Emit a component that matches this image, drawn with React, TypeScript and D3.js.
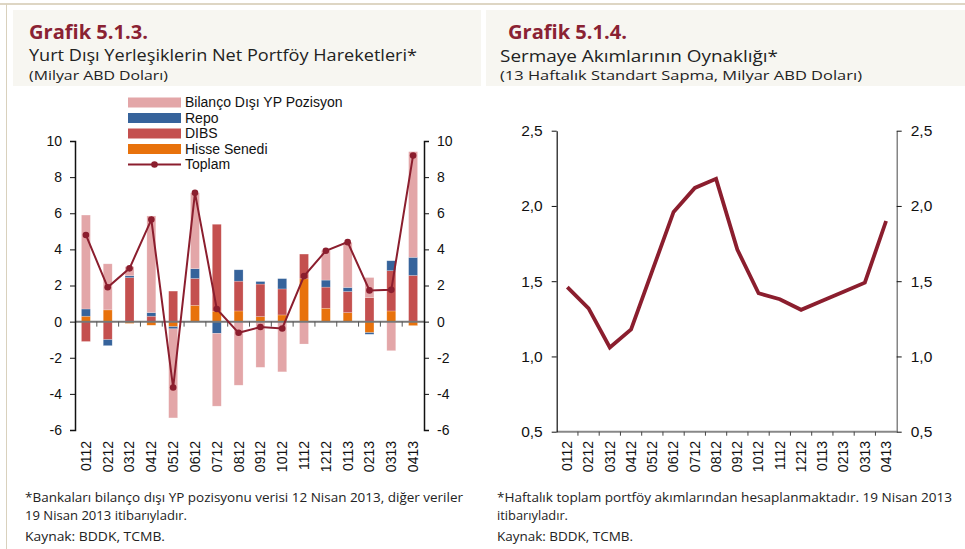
import React, { useEffect, useRef } from "react";
import * as d3 from "d3";

const months = ["0112", "0212", "0312", "0412", "0512", "0612", "0712", "0812", "0912", "1012", "1112", "1212", "0113", "0213", "0313", "0413"];

// Grafik 5.1.3 series (milyar ABD doları)
const hisse = [0.3, 0.65, -0.1, -0.2, -0.28, 0.9, 0.58, 0.59, 0.28, 0.37, 2.37, 0.74, 0.5, -0.61, 0.59, -0.22];
const dibs = [-1.1, -1.0, 2.44, 0.3, 1.69, 1.49, 4.81, 1.65, 1.8, 1.44, 1.37, 1.17, 1.17, 1.33, 2.23, 2.56];
const repo = [0.4, -0.33, 0.1, 0.2, -0.12, 0.54, -0.65, 0.63, 0.14, 0.57, 0, 0.39, 0.22, -0.09, 0.55, 1.0];
const bilanco = [5.2, 2.55, 0.5, 5.35, -4.93, 4.2, -4.03, -3.52, -2.53, -2.78, -1.24, 1.64, 2.5, 1.11, -1.61, 5.85];
const toplam = [4.8, 1.9, 2.95, 5.65, -3.65, 7.13, 0.7, -0.62, -0.3, -0.38, 2.52, 3.92, 4.4, 1.73, 1.76, 9.2];

// Grafik 5.1.4 series
const oynaklik = [1.46, 1.32, 1.06, 1.18, 1.57, 1.96, 2.12, 2.18, 1.71, 1.42, 1.38, 1.31, 1.37, 1.43, 1.49, 1.9];

const leftTicks = [-6, -4, -2, 0, 2, 4, 6, 8, 10];
const rightTicks = [0.5, 1.0, 1.5, 2.0, 2.5];

const seriesKeys = ["hisse", "dibs", "repo", "bilanco"];
const seriesColors: Record<string, string> = {
  hisse: "#e8720c",
  dibs: "#c4504f",
  repo: "#36639b",
  bilanco: "#e3a6a8",
};
const lineColor = "#8b1e2e";
const titleColor = "#8a2233";

const legendItems = [
  { key: "bilanco", label: "Bilanço Dışı YP Pozisyon" },
  { key: "repo", label: "Repo" },
  { key: "dibs", label: "DIBS" },
  { key: "hisse", label: "Hisse Senedi" },
  { key: "toplam", label: "Toplam" },
];

const axisFont = "'Liberation Sans', Arial, sans-serif";
const textFont = "'Open Sans', 'DejaVu Sans', sans-serif";

export default function App() {
  const ref = useRef<SVGSVGElement>(null);

  useEffect(() => {
    const svg = d3.select(ref.current);
    svg.selectAll("*").remove();

    const addText = (xp: number, yp: number, s: string, size: number, len: number, color = "#222", weight = 400) =>
      svg.append("text").attr("x", xp).attr("y", yp).attr("font-family", textFont)
        .attr("font-size", size).attr("font-weight", weight).attr("fill", color)
        .attr("textLength", len).attr("lengthAdjust", "spacingAndGlyphs").text(s);

    // frame and title boxes
    svg.append("line").attr("x1", 0).attr("x2", 965).attr("y1", 4).attr("y2", 4)
      .attr("stroke", "#d3c9b0").attr("stroke-width", 1.5);
    svg.append("line").attr("x1", 6.5).attr("x2", 6.5).attr("y1", 4).attr("y2", 549)
      .attr("stroke", "#d9d1bd").attr("stroke-width", 1);
    svg.append("rect").attr("x", 13).attr("y", 10).attr("width", 468).attr("height", 76).attr("fill", "#f7f6f1");
    svg.append("rect").attr("x", 486).attr("y", 10).attr("width", 479).attr("height", 76).attr("fill", "#f7f6f1");

    addText(29, 39, "Grafik 5.1.3.", 20, 119, titleColor, 700);
    addText(29, 61, "Yurt Dışı Yerleşiklerin Net Portföy Hareketleri*", 16, 388);
    addText(29, 79.5, "(Milyar ABD Doları)", 13, 139);
    addText(508, 39, "Grafik 5.1.4.", 20, 119, titleColor, 700);
    addText(500, 61.5, "Sermaye Akımlarının Oynaklığı*", 16, 278);
    addText(500, 80, "(13 Haftalık Standart Sapma, Milyar ABD Doları)", 13, 362);

    // ---------- left chart ----------
    const x = d3.scaleBand().domain(months).range([75, 424]).padding(0);
    const y = d3.scaleLinear().domain([-6, 10]).range([430, 141]);
    const barW = x.bandwidth() * 0.41;

    const table = months.map((m, i) => ({ month: m, hisse: hisse[i], dibs: dibs[i], repo: repo[i], bilanco: bilanco[i] }));
    const stacked = d3.stack<any>().keys(seriesKeys).offset(d3.stackOffsetDiverging)(table);

    const gBars = svg.append("g");
    stacked.forEach((layer) => {
      gBars.append("g").attr("fill", seriesColors[layer.key])
        .selectAll("rect").data(layer).enter().append("rect")
        .attr("x", (d: any) => (x(d.data.month) as number) + (x.bandwidth() - barW) / 2)
        .attr("y", (d) => y(Math.max(d[0], d[1])))
        .attr("width", barW)
        .attr("height", (d) => Math.abs(y(d[0]) - y(d[1])))
        .attr("stroke", "#fff").attr("stroke-opacity", 0.35).attr("stroke-width", 0.6);
    });

    // zero line with ticks between categories
    svg.append("line").attr("x1", 75).attr("x2", 424).attr("y1", y(0)).attr("y2", y(0))
      .attr("stroke", "#777").attr("stroke-width", 2);
    svg.append("g").selectAll("line").data(months.slice(1)).enter().append("line")
      .attr("x1", (d) => x(d) as number).attr("x2", (d) => x(d) as number)
      .attr("y1", y(0)).attr("y2", y(0) + 5).attr("stroke", "#555").attr("stroke-width", 1);

    // toplam line
    const line = d3.line<number>().x((_, i) => (x(months[i]) as number) + x.bandwidth() / 2).y((d) => y(d));
    svg.append("path").datum(toplam).attr("d", line).attr("fill", "none")
      .attr("stroke", lineColor).attr("stroke-width", 2);
    svg.append("g").selectAll("circle").data(toplam).enter().append("circle")
      .attr("cx", (_, i) => (x(months[i]) as number) + x.bandwidth() / 2)
      .attr("cy", (d) => y(d)).attr("r", 3.3).attr("fill", lineColor);

    const styleAxis = (g: any, size: number) => {
      g.select(".domain").attr("stroke", "#111").attr("stroke-width", 1.5);
      g.selectAll(".tick line").attr("stroke", "#111");
      g.selectAll("text").attr("font-family", axisFont).attr("font-size", size).attr("fill", "#111");
    };
    const intFmt = (d: any) => String(d);

    svg.append("g").attr("transform", "translate(75,0)")
      .call(d3.axisLeft(y).tickValues(leftTicks).tickSize(5).tickSizeOuter(5).tickPadding(8).tickFormat(intFmt))
      .call((g: any) => styleAxis(g, 14));
    svg.append("g").attr("transform", "translate(424,0)")
      .call(d3.axisRight(y).tickValues(leftTicks).tickSize(5).tickSizeOuter(5).tickPadding(8).tickFormat(intFmt))
      .call((g: any) => styleAxis(g, 14));

    svg.append("g").selectAll("text").data(months).enter().append("text")
      .attr("transform", (d) => `translate(${(x(d) as number) + x.bandwidth() / 2},441) rotate(-90)`)
      .attr("text-anchor", "end").attr("dy", "0.35em")
      .attr("font-family", axisFont).attr("font-size", 14).attr("fill", "#111").text((d) => d);

    // legend
    const lg = svg.append("g");
    legendItems.forEach((it, i) => {
      const cy = 102.5 + i * 15.5;
      if (it.key === "toplam") {
        lg.append("line").attr("x1", 128).attr("x2", 181).attr("y1", cy).attr("y2", cy)
          .attr("stroke", lineColor).attr("stroke-width", 2);
        lg.append("circle").attr("cx", 154.5).attr("cy", cy).attr("r", 3.3).attr("fill", lineColor);
      } else {
        lg.append("rect").attr("x", 128).attr("y", cy - 5).attr("width", 53).attr("height", 10)
          .attr("fill", seriesColors[it.key]);
      }
      lg.append("text").attr("x", 185).attr("y", cy).attr("dy", "0.35em")
        .attr("font-family", axisFont).attr("font-size", 14).attr("fill", "#111").text(it.label);
    });

    // ---------- right chart ----------
    const x2 = d3.scaleBand().domain(months).range([556.7, 896.7]).padding(0);
    const y2 = d3.scaleLinear().domain([0.5, 2.5]).range([431.7, 130.7]);
    const fmt = (d: any) => d3.format(".1f")(d).replace(".", ",");

    svg.append("line").attr("x1", 556.7).attr("x2", 896.7).attr("y1", y2(0.5)).attr("y2", y2(0.5))
      .attr("stroke", "#888").attr("stroke-width", 2);
    svg.append("g").selectAll("line").data(months.slice(1)).enter().append("line")
      .attr("x1", (d) => x2(d) as number).attr("x2", (d) => x2(d) as number)
      .attr("y1", y2(0.5)).attr("y2", y2(0.5) + 4).attr("stroke", "#444").attr("stroke-width", 1);

    svg.append("g").attr("transform", "translate(556.7,0)")
      .call(d3.axisLeft(y2).tickValues(rightTicks).tickSize(5).tickSizeOuter(0).tickPadding(9).tickFormat(fmt))
      .call((g: any) => styleAxis(g, 15.5))
      .call((g: any) => g.select(".domain").attr("stroke-width", 1.2));
    svg.append("g").attr("transform", "translate(896.7,0)")
      .call(d3.axisRight(y2).tickValues(rightTicks).tickSize(5).tickSizeOuter(0).tickPadding(9).tickFormat(fmt))
      .call((g: any) => styleAxis(g, 15.5))
      .call((g: any) => g.select(".domain").attr("stroke", "#666").attr("stroke-width", 1.2));

    const line2 = d3.line<number>().x((_, i) => (x2(months[i]) as number) + x2.bandwidth() / 2).y((d) => y2(d));
    svg.append("path").datum(oynaklik).attr("d", line2).attr("fill", "none")
      .attr("stroke", lineColor).attr("stroke-width", 3.8).attr("stroke-linejoin", "miter");

    svg.append("g").selectAll("text").data(months).enter().append("text")
      .attr("transform", (d) => `translate(${(x2(d) as number) + x2.bandwidth() / 2},441) rotate(-90)`)
      .attr("text-anchor", "end").attr("dy", "0.35em")
      .attr("font-family", axisFont).attr("font-size", 14).attr("fill", "#111").text((d) => d);

    // footnotes
    addText(25, 502, "*Bankaları bilanço dışı YP pozisyonu verisi 12 Nisan 2013, diğer veriler", 12, 438);
    addText(25, 520, "19 Nisan 2013 itibarıyladır.", 12, 162);
    addText(25, 541, "Kaynak: BDDK, TCMB.", 12, 140);
    addText(497, 502, "*Haftalık toplam portföy akımlarından hesaplanmaktadır. 19 Nisan 2013", 12, 455);
    addText(497, 520, "itibarıyladır.", 12, 71);
    addText(497, 541, "Kaynak: BDDK, TCMB.", 12, 136);
  }, []);

  return (
    <svg ref={ref} width={965} height={549}
      style={{ position: "absolute", left: 0, top: 0, background: "#fff" }} />
  );
}
